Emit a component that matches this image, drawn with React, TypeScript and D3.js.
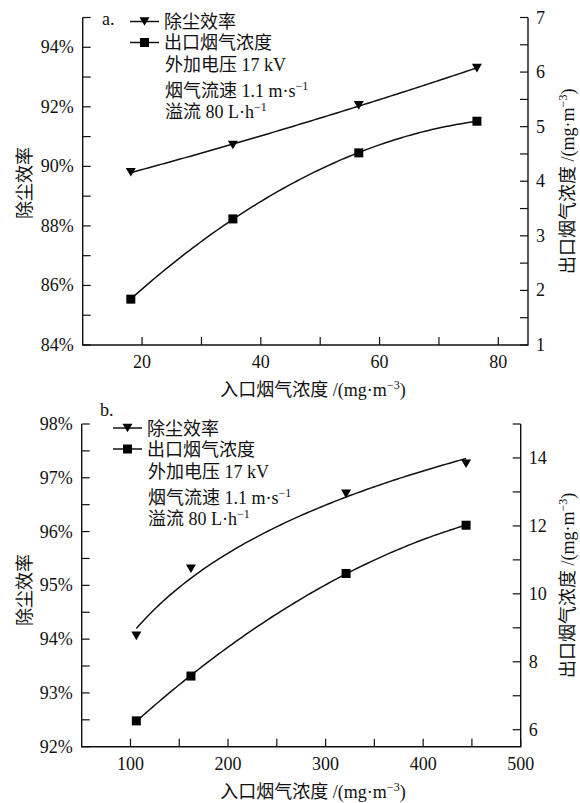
import React from 'react';
import * as d3 from 'd3';

// panel a: inlet concentration (mg/m3), removal efficiency (%), outlet concentration (mg/m3)
const inletA = [18.1, 35.3, 56.5, 76.4];
const effA = [89.8, 90.72, 92.05, 93.3];
const outletA = [1.84, 3.31, 4.52, 5.1];

// panel b
const inletB = [106, 162, 321, 444];
const effB = [94.06, 95.31, 96.7, 97.26];
const outletB = [6.26, 7.58, 10.6, 12.02];

const seriesNames = ['除尘效率', '出口烟气浓度'];
const conditions: [string, string][] = [
    ['外加电压 17 kV', ''],
    ['烟气流速 1.1 m·s', '−1'],
    ['溢流 80 L·h', '−1'],
];
const xTitle = '入口烟气浓度 /(mg·m';
const leftTitle = '除尘效率';
const rightTitle = '出口烟气浓度 /(mg·m';

const xTicksA = [20, 30, 40, 50, 60, 70, 80];
const xLabelsA = [20, 40, 60, 80];
const effTicksA = [84, 85, 86, 87, 88, 89, 90, 91, 92, 93, 94, 95];
const effLabelsA = [84, 86, 88, 90, 92, 94];
const outTicksA = [1, 1.5, 2, 2.5, 3, 3.5, 4, 4.5, 5, 5.5, 6, 6.5, 7];
const outLabelsA = [1, 2, 3, 4, 5, 6, 7];

const xTicksB = [100, 150, 200, 250, 300, 350, 400, 450, 500];
const xLabelsB = [100, 200, 300, 400, 500];
const effTicksB = [92, 92.5, 93, 93.5, 94, 94.5, 95, 95.5, 96, 96.5, 97, 97.5, 98];
const effLabelsB = [92, 93, 94, 95, 96, 97, 98];
const outTicksB = [6, 7, 8, 9, 10, 11, 12, 13, 14, 15];
const outLabelsB = [6, 8, 10, 12, 14];

const FONT = "'Liberation Serif', 'Times New Roman', 'Noto Sans CJK SC', serif";

// least squares quadratic, used for the trend curves
function quadFit(xs: number[], ys: number[]) {
    const mx = d3.mean(xs) as number;
    const S = [[0, 0, 0], [0, 0, 0], [0, 0, 0]];
    const T = [0, 0, 0];
    xs.forEach((x, i) => {
        const u = x - mx;
        const p = [1, u, u * u];
        for (let j = 0; j < 3; j++) {
            for (let k = 0; k < 3; k++) S[j][k] += p[j] * p[k];
            T[j] += p[j] * ys[i];
        }
    });
    const det = (m: number[][]) =>
        m[0][0] * (m[1][1] * m[2][2] - m[1][2] * m[2][1]) -
        m[0][1] * (m[1][0] * m[2][2] - m[1][2] * m[2][0]) +
        m[0][2] * (m[1][0] * m[2][1] - m[1][1] * m[2][0]);
    const D = det(S);
    const c = [0, 1, 2].map(col => det(S.map((row, r) => row.map((v, k) => (k === col ? T[r] : v)))) / D);
    return (x: number) => c[0] + c[1] * (x - mx) + c[2] * (x - mx) * (x - mx);
}

// y = a + b ln(x)
function logFit(xs: number[], ys: number[]) {
    const lx = xs.map(Math.log);
    const ml = d3.mean(lx) as number;
    const my = d3.mean(ys) as number;
    const b = d3.sum(lx, (l, i) => (l - ml) * (ys[i] - my)) / d3.sum(lx, l => (l - ml) * (l - ml));
    return (x: number) => my + b * (Math.log(x) - ml);
}

function Panel(props: any) {
    const { tag, tagPos, legendX, box, inlet, eff, outlet, xDomain, xTicks, xLabels,
        effDomain, effTicks, effLabels, outDomain, outTicks, outLabels, leftTitleY, effFit } = props;
    const { left, right, top, bottom } = box;

    const x = d3.scaleLinear().domain(xDomain).range([left, right]);
    const yL = d3.scaleLinear().domain(effDomain).range([bottom, top]);
    const yR = d3.scaleLinear().domain(outDomain).range([bottom, top]);

    const x0 = d3.min(inlet) as number;
    const x1 = d3.max(inlet) as number;
    const xs = d3.range(0, 101).map(i => x0 + (x1 - x0) * i / 100);
    const fEff = effFit === 'log' ? logFit(inlet, eff) : quadFit(inlet, eff);
    const fOut = quadFit(inlet, outlet);
    const lineL = d3.line<number>().x(d => x(d)).y(d => yL(fEff(d)));
    const lineR = d3.line<number>().x(d => x(d)).y(d => yR(fOut(d)));

    const tri = 'M-5,-4.3L5,-4.3L0,4.3Z';
    const tl = 8;
    const midY = (top + bottom) / 2;
    const rows = [4, 25, 47, 73, 94];

    return (
        <g fontFamily={FONT} fill="#111">
            {/* axes */}
            <path d={`M${left},${top}V${bottom}H${right}V${top}`} fill="none" stroke="#111" strokeWidth={1.4} />
            {xTicks.map((t: number) => (
                <line key={'xt' + t} x1={x(t)} x2={x(t)} y1={bottom} y2={bottom - tl} stroke="#111" strokeWidth={1.2} />
            ))}
            {xLabels.map((t: number) => (
                <text key={'xl' + t} x={x(t)} y={bottom + 23} textAnchor="middle" fontSize={18}>{t}</text>
            ))}
            {effTicks.map((t: number) => (
                <line key={'lt' + t} x1={left} x2={left + tl} y1={yL(t)} y2={yL(t)} stroke="#111" strokeWidth={1.2} />
            ))}
            {effLabels.map((t: number) => (
                <text key={'ll' + t} x={left - 9} y={yL(t) + 6} textAnchor="end" fontSize={18}>{t}%</text>
            ))}
            {outTicks.map((t: number) => (
                <line key={'rt' + t} x1={right} x2={right - tl} y1={yR(t)} y2={yR(t)} stroke="#111" strokeWidth={1.2} />
            ))}
            {outLabels.map((t: number) => (
                <text key={'rl' + t} x={right + 8} y={yR(t) + 6} textAnchor="start" fontSize={18}>{t}</text>
            ))}

            {/* axis titles */}
            <text x={313} y={bottom + 51} textAnchor="middle" fontSize={18}>
                {xTitle}<tspan dy={-7} fontSize={12}>−3</tspan><tspan dy={7}>)</tspan>
            </text>
            <text transform={`translate(31,${leftTitleY}) rotate(-90)`} textAnchor="middle" fontSize={18}>{leftTitle}</text>
            <text transform={`translate(574,${midY}) rotate(-90)`} textAnchor="middle" fontSize={18}>
                {rightTitle}<tspan dy={-7} fontSize={12}>−3</tspan><tspan dy={7}>)</tspan>
            </text>

            {/* fitted curves */}
            <path d={lineL(xs) as string} fill="none" stroke="#111" strokeWidth={1.5} />
            <path d={lineR(xs) as string} fill="none" stroke="#111" strokeWidth={1.5} />

            {/* points */}
            {inlet.map((v: number, i: number) => (
                <path key={'p' + i} d={tri} transform={`translate(${x(v)},${yL(eff[i])})`} fill="#000" />
            ))}
            {inlet.map((v: number, i: number) => (
                <rect key={'s' + i} x={x(v) - 4.5} y={yR(outlet[i]) - 4.5} width={9} height={9} fill="#000" />
            ))}

            {/* legend */}
            <text x={tagPos[0]} y={tagPos[1]} fontSize={18}>{tag}</text>
            {seriesNames.map((name, i) => {
                const cy = top + rows[i];
                return (
                    <g key={name}>
                        <line x1={legendX} x2={legendX + 29} y1={cy} y2={cy} stroke="#111" strokeWidth={1.5} />
                        {i === 0
                            ? <path d={tri} transform={`translate(${legendX + 14.5},${cy})`} fill="#000" />
                            : <rect x={legendX + 10} y={cy - 4.5} width={9} height={9} fill="#000" />}
                        <text x={legendX + 34} y={cy + 6.5} fontSize={18}>{name}</text>
                    </g>
                );
            })}
            {conditions.map((c, i) => (
                <text key={c[0]} x={legendX + 35} y={top + rows[i + 2] + 6.5} fontSize={18}>
                    {c[0]}{c[1] ? <tspan dy={-7} fontSize={12}>{c[1]}</tspan> : null}
                </text>
            ))}
        </g>
    );
}

export default function App() {
    return (
        <svg width={580} height={803} viewBox="0 0 580 803"
            style={{ position: 'absolute', left: 0, top: 0, background: '#fff' }}>
            <Panel tag="a." tagPos={[102, 25]} legendX={130}
                box={{ left: 82.7, right: 528, top: 17.5, bottom: 345 }}
                inlet={inletA} eff={effA} outlet={outletA}
                xDomain={[10, 85]} xTicks={xTicksA} xLabels={xLabelsA}
                effDomain={[84, 95]} effTicks={effTicksA} effLabels={effLabelsA}
                outDomain={[1, 7]} outTicks={outTicksA} outLabels={outLabelsA}
                leftTitleY={183} effFit="quad" />
            <Panel tag="b." tagPos={[100, 416]} legendX={113}
                box={{ left: 81.7, right: 520.7, top: 424, bottom: 746.7 }}
                inlet={inletB} eff={effB} outlet={outletB}
                xDomain={[50, 500]} xTicks={xTicksB} xLabels={xLabelsB}
                effDomain={[92, 98]} effTicks={effTicksB} effLabels={effLabelsB}
                outDomain={[5.5, 15]} outTicks={outTicksB} outLabels={outLabelsB}
                leftTitleY={590} effFit="log" />
        </svg>
    );
}
